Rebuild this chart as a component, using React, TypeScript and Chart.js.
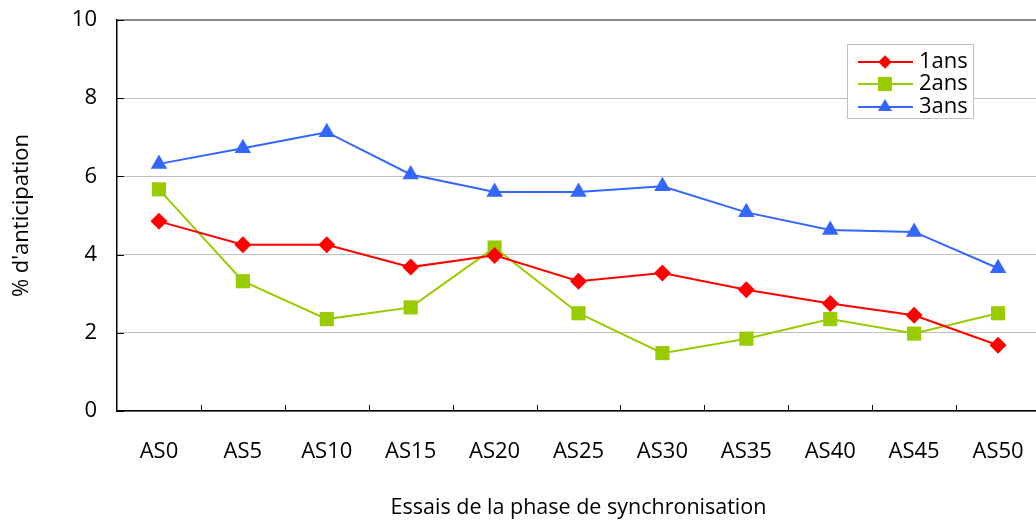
import React, { useEffect, useRef } from 'react';
import { Chart, registerables } from 'chart.js';

Chart.register(...registerables);

const categories = ['AS0', 'AS5', 'AS10', 'AS15', 'AS20', 'AS25', 'AS30', 'AS35', 'AS40', 'AS45', 'AS50'];
const seriesNames = ['1ans', '2ans', '3ans'];
const values1ans = [4.85, 4.25, 4.25, 3.68, 3.98, 3.32, 3.53, 3.1, 2.75, 2.45, 1.68];
const values2ans = [5.67, 3.32, 2.35, 2.65, 4.18, 2.5, 1.48, 1.85, 2.35, 1.98, 2.5];
const values3ans = [6.32, 6.72, 7.13, 6.05, 5.6, 5.6, 5.75, 5.08, 4.63, 4.58, 3.65];
const yTickValues = [0, 2, 4, 6, 8, 10];
const xTitle = 'Essais de la phase de synchronisation';
const yTitle = "% d'anticipation";

const FONT = "'Open Sans', 'DejaVu Sans', sans-serif";
const colors = ['#FF0000', '#99CC00', '#3366FF'];
const pointStyles = ['rectRot', 'rect', 'triangle'];
const pointRadii = [8.5, 10, 9.5];

function drawMarker(ctx: CanvasRenderingContext2D, style: string, x: number, y: number, r: number, color: string) {
  ctx.save();
  ctx.fillStyle = color;
  ctx.beginPath();
  if (style === 'rectRot') {
    const s = r * 0.8;
    ctx.moveTo(x, y - s);
    ctx.lineTo(x + s, y);
    ctx.lineTo(x, y + s);
    ctx.lineTo(x - s, y);
  } else if (style === 'rect') {
    const s = r * Math.SQRT1_2;
    ctx.rect(x - s, y - s, 2 * s, 2 * s);
  } else {
    const s = r * 0.85;
    ctx.moveTo(x, y - s);
    ctx.lineTo(x + s * Math.sin((2 * Math.PI) / 3), y - s * Math.cos((2 * Math.PI) / 3));
    ctx.lineTo(x - s * Math.sin((2 * Math.PI) / 3), y - s * Math.cos((2 * Math.PI) / 3));
  }
  ctx.closePath();
  ctx.fill();
  ctx.restore();
}

const decorPlugin = {
  id: 'decor',
  afterDatasetsDraw(chart: any) {
    const ctx: CanvasRenderingContext2D = chart.ctx;
    const { left, bottom } = chart.chartArea;
    const xs = chart.scales.x;
    const ys = chart.scales.y;
    ctx.save();
    ctx.strokeStyle = '#000000';
    ctx.lineWidth = 1;
    yTickValues.forEach((v) => {
      const py = Math.round(ys.getPixelForValue(v)) + 0.5;
      ctx.beginPath();
      ctx.moveTo(left, py);
      ctx.lineTo(left + 7, py);
      ctx.stroke();
    });
    for (let i = 0; i < categories.length - 1; i++) {
      const px = Math.round((xs.getPixelForValue(i) + xs.getPixelForValue(i + 1)) / 2) + 0.5;
      ctx.beginPath();
      ctx.moveTo(px, bottom);
      ctx.lineTo(px, bottom - 6);
      ctx.stroke();
    }
    ctx.restore();
  },
  afterDraw(chart: any) {
    const ctx: CanvasRenderingContext2D = chart.ctx;
    const bx = 847.5, by = 44.5, bw = 126, bh = 74;
    ctx.save();
    ctx.fillStyle = '#FFFFFF';
    ctx.fillRect(bx, by, bw, bh);
    ctx.strokeStyle = '#C0C0C0';
    ctx.lineWidth = 1;
    ctx.strokeRect(bx, by, bw, bh);
    const rows = [62, 84, 107];
    chart.data.datasets.forEach((ds: any, i: number) => {
      const y = rows[i];
      ctx.strokeStyle = ds.borderColor;
      ctx.lineWidth = 2;
      ctx.beginPath();
      ctx.moveTo(858, y);
      ctx.lineTo(913, y);
      ctx.stroke();
      drawMarker(ctx, ds.pointStyle, 885, y, ds.pointRadius, ds.backgroundColor);
      ctx.fillStyle = '#000000';
      ctx.font = `22px ${FONT}`;
      ctx.textBaseline = 'middle';
      ctx.textAlign = 'left';
      ctx.fillText(ds.label, 919, y);
    });
    ctx.restore();
  },
};

export default function App() {
  const canvasRef = useRef<HTMLCanvasElement | null>(null);

  useEffect(() => {
    if (!canvasRef.current) return;
    const seriesValues = [values1ans, values2ans, values3ans];
    const chart = new Chart(canvasRef.current, {
      type: 'line',
      data: {
        labels: categories,
        datasets: seriesNames.map((name, i) => ({
          label: name,
          data: seriesValues[i],
          borderColor: colors[i],
          backgroundColor: colors[i],
          borderWidth: 2,
          pointStyle: pointStyles[i] as any,
          pointRadius: pointRadii[i],
          pointBorderWidth: 0,
          pointBackgroundColor: colors[i],
          tension: 0,
        })),
      },
      options: {
        animation: false,
        responsive: false,
        maintainAspectRatio: false,
        layout: { padding: { left: 0, top: 20, right: 7, bottom: 0 } },
        plugins: {
          legend: { display: false },
          tooltip: { enabled: false },
        },
        scales: {
          x: {
            type: 'category',
            offset: true,
            grid: { display: false, drawTicks: false },
            border: { display: true, color: '#000000', width: 1.5 },
            ticks: {
              color: '#000000',
              font: { family: FONT, size: 22 },
              padding: 28,
              maxRotation: 0,
              autoSkip: false,
            },
            title: {
              display: true,
              text: xTitle,
              color: '#000000',
              font: { family: FONT, size: 21.5 },
              padding: { top: 0, bottom: 4 },
            },
            afterFit: (scale: any) => {
              scale.height = 114;
              scale.paddingLeft = 0;
              scale.paddingRight = 0;
            },
          },
          y: {
            min: 0,
            max: 10,
            afterBuildTicks: (scale: any) => {
              scale.ticks = yTickValues.map((v) => ({ value: v }));
            },
            grid: {
              drawTicks: false,
              color: (c: any) => (c.tick && c.tick.value === 10 ? '#8C8C8C' : '#C0C0C0'),
              lineWidth: (c: any) => (c.tick && c.tick.value === 10 ? 2 : 1),
            },
            border: { display: true, color: '#000000', width: 1.5 },
            ticks: {
              color: '#000000',
              font: { family: FONT, size: 22 },
              padding: 20,
            },
            title: {
              display: true,
              text: yTitle,
              color: '#000000',
              font: { family: FONT, size: 22 },
              padding: { top: 9, bottom: 0 },
            },
            afterFit: (scale: any) => {
              scale.width = 117;
              scale.paddingTop = 0;
              scale.paddingBottom = 0;
            },
          },
        },
      },
      plugins: [decorPlugin],
    });
    return () => chart.destroy();
  }, []);

  return (
    <div style={{ position: 'fixed', left: 0, top: 0, width: 1036, height: 525, overflow: 'hidden', background: '#FFFFFF' }}>
      <canvas ref={canvasRef} width={1050} height={525} style={{ display: 'block' }} />
    </div>
  );
}
